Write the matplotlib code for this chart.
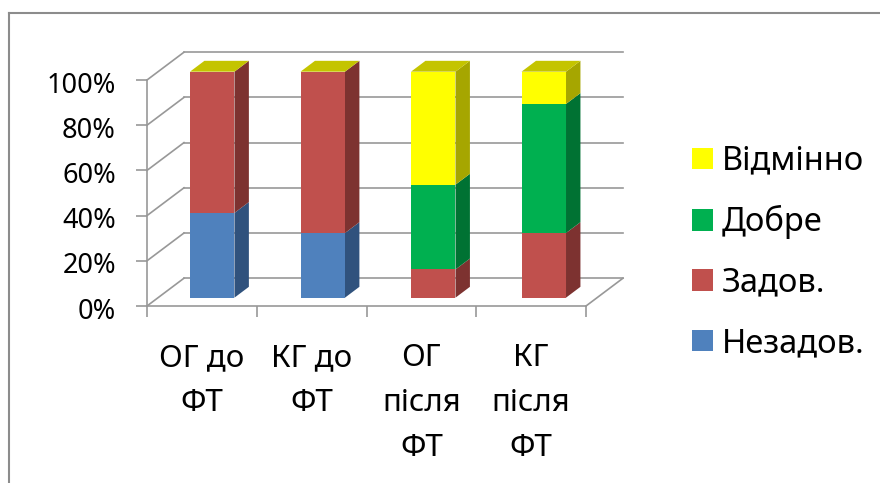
import matplotlib
matplotlib.use('Agg')
import matplotlib.pyplot as plt
from matplotlib.lines import Line2D
from matplotlib.patches import Patch
from matplotlib.transforms import ScaledTranslation

plt.rcParams['font.family'] = ['Noto Sans', 'DejaVu Sans']

groups = ['ОГ до\nФТ', 'КГ до\nФТ', 'ОГ\nпісля\nФТ', 'КГ\nпісля\nФТ']
nezadov = [37.5, 28.6, 0, 0]
zadov = [62.5, 71.4, 12.5, 28.6]
dobre = [0, 0, 37.5, 57.1]
vidminno = [0, 0, 50, 14.3]

series = [nezadov, zadov, dobre, vidminno]
names = ['Незадов.', 'Задов.', 'Добре', 'Відмінно']
front_colors = ['#4F81BD', '#C0504D', '#00B050', '#FFFF00']
side_colors = ['#30527D', '#7D3230', '#007233', '#A6A600']
top_color = '#C4C400'

grid_color = '#989898'
# oblique depth of the box, in axis units
depth_x = 0.337
depth_y = 12.3
# bars stand part way into the box
bar_shift = 0.28
bar_depth = 0.39
bar_width = 0.405
bar_step = 1.007

fig = plt.figure(figsize=(8.8, 4.83), dpi=100)
ax = fig.add_axes([147 / 880, 177 / 483, 439 / 880, 226 / 483])
ax.set_xlim(0, 4)
ax.set_ylim(0, 100)

# back wall, left wall and floor
ticks = [0, 20, 40, 60, 80, 100]
for t in ticks:
    ax.plot([depth_x, 4 + depth_x], [t + depth_y, t + depth_y], color=grid_color,
            lw=1.2, clip_on=False, zorder=1)
    ax.plot([0, depth_x], [t, t + depth_y], color=grid_color, lw=1.2,
            clip_on=False, zorder=1)
ax.plot([4, 4 + depth_x], [0, depth_y], color=grid_color, lw=1.2, clip_on=False, zorder=1)

# stacked boxes: side faces first, then the front, top face last
for i in range(len(groups)):
    left = i * bar_step + 0.5 - bar_width / 2 + bar_shift * depth_x
    right = left + bar_width
    base = 0.3 * depth_y
    dx = bar_depth * depth_x
    dy = bar_depth * depth_y
    bottom = base
    for s, values in enumerate(series):
        v = values[i]
        if v > 0:
            ax.fill([right, right + dx, right + dx, right],
                    [bottom, bottom + dy, bottom + v + dy, bottom + v],
                    color=side_colors[s], lw=0, clip_on=False, zorder=3)
            ax.bar(left, v, bar_width, bottom=bottom, align='edge',
                   color=front_colors[s], lw=0, clip_on=False, zorder=4)
        bottom += v
    ax.fill([left, left + dx, right + dx, right],
            [bottom, bottom + dy, bottom + dy, bottom],
            color=top_color, lw=0, clip_on=False, zorder=4)

for side in ['top', 'right']:
    ax.spines[side].set_visible(False)
for side in ['left', 'bottom']:
    ax.spines[side].set_color(grid_color)
    ax.spines[side].set_linewidth(1.2)
    ax.spines[side].set_zorder(2)

ax.set_yticks(ticks)
ax.set_yticklabels([str(t) + '%' for t in ticks], fontsize=19.5, color='black')
ax.set_xticks(range(5))
ax.set_xticklabels([])
ax.set_xticks([i + 0.5 for i in range(4)], minor=True)
ax.set_xticklabels(groups, minor=True, fontsize=22.5, color='black', linespacing=1.65)
ax.tick_params(axis='both', which='major', length=8, width=1.2, color=grid_color)
ax.tick_params(axis='y', pad=14.4)
ax.tick_params(axis='x', which='minor', length=0, pad=26.5)

# percent labels sit a little below their ticks
nudge = ScaledTranslation(0, -1.5 / 72, fig.dpi_scale_trans)
for label in ax.get_yticklabels():
    label.set_transform(label.get_transform() + nudge)

handles = [Patch(color=c, lw=0) for c in front_colors[::-1]]
ax.legend(handles, names[::-1], loc='upper left', bbox_to_anchor=(682 / 880, 1 - 135 / 483),
          bbox_transform=fig.transFigure, frameon=False, fontsize=23.5,
          handlelength=0.64, handleheight=0.64, handletextpad=0.27, labelspacing=0.84,
          borderpad=0, borderaxespad=0.3)

# outer frame, open on the right and at the bottom
fig.add_artist(Line2D([9 / 880, 9 / 880], [0, 1 - 12.5 / 483], color='#8C8C8C', lw=1.5))
fig.add_artist(Line2D([9 / 880, 1], [1 - 12.5 / 483, 1 - 12.5 / 483], color='#8C8C8C', lw=1.5))

fig.savefig('out.png', dpi=100)
